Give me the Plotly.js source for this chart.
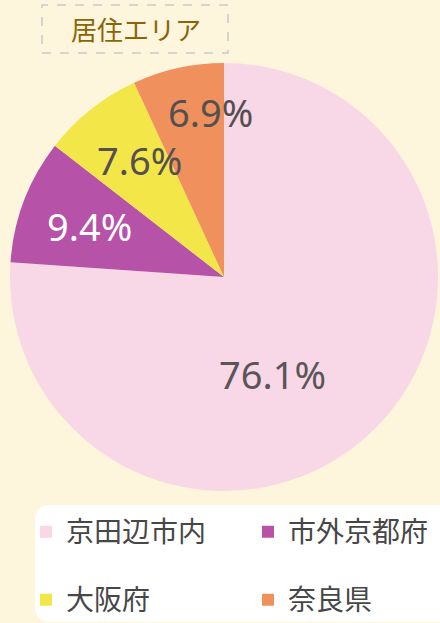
<!DOCTYPE html>
<html><head><meta charset="utf-8">
<script src="https://cdn.plot.ly/plotly-3.0.1.min.js"></script>
<style>html,body{margin:0;padding:0;background:#fdf5de;}</style>
</head><body>
<div id="chart" style="width:440px;height:623px;"></div>
<script>
const labels = ["京田辺市内", "市外京都府", "大阪府", "奈良県"];
const values = [76.1, 9.4, 7.6, 6.9];
const sliceColors = ["#f8d8e6", "#b652a8", "#f3e648", "#f0905d"];
const textColors = ["#5a5558", "#ffffff", "#555050", "#555050"];
const chartTitle = "居住エリア";

const W = 440, H = 623;
const px = x => x / W, py = y => 1 - y / H;

// pie geometry (pixels)
const pieX0 = 10, pieX1 = 438, pieY0 = 63, pieY1 = 491;
const cx = (pieX0 + pieX1) / 2, cy = (pieY0 + pieY1) / 2, R = (pieX1 - pieX0) / 2;

// label placement relative to each slice's mid-angle
const labelAngleNudge = [16.7, 0, 2.8, 7.6];
const labelRadius = [0.506, 0.674, 0.673, 0.774];

const total = values.reduce((a, b) => a + b, 0);
let cum = 0;
const pctAnnotations = values.map((v, i) => {
  const mid = (cum + v / 2) / total * 360;
  cum += v;
  const th = (mid + labelAngleNudge[i]) * Math.PI / 180;
  const x = cx + labelRadius[i] * R * Math.sin(th);
  const y = cy - labelRadius[i] * R * Math.cos(th);
  return {
    text: (v / total * 100).toFixed(1) + "%",
    xref: "paper", yref: "paper", x: px(x), y: py(y),
    xanchor: "center", yanchor: "middle", showarrow: false,
    font: { family: "Noto Sans, sans-serif", size: 38, color: textColors[i] }
  };
});

// rounded legend box
const bx0 = 35, bx1 = 470, by0 = 505, by1 = 622, r = 16;
const legendPath = `M ${px(bx0 + r)},${py(by0)} L ${px(bx1)},${py(by0)} L ${px(bx1)},${py(by1)} L ${px(bx0 + r)},${py(by1)} Q ${px(bx0)},${py(by1)} ${px(bx0)},${py(by1 - r)} L ${px(bx0)},${py(by0 + r)} Q ${px(bx0)},${py(by0)} ${px(bx0 + r)},${py(by0)} Z`;

// first-row entries get an extra (blank) line for row spacing; first entry padded for column spacing
const legendLabels = labels.map((l, i) => {
  let s = `<span style="font-size:28px">${l}</span>`;
  if (i === 0) s += `<span style="font-size:37px">\u3000</span>`;
  if (i < 2) s += `<br> `;
  return s;
});

const trace = {
  type: "pie",
  labels: legendLabels,
  values: values,
  sort: false,
  direction: "clockwise",
  rotation: 0,
  marker: { colors: sliceColors, line: { width: 0 } },
  textinfo: "none",
  hoverinfo: "none",
  domain: { x: [px(pieX0), px(pieX1)], y: [py(pieY1), py(pieY0)] }
};

const layout = {
  width: W, height: H,
  margin: { l: 0, r: 0, t: 0, b: 0 },
  paper_bgcolor: "#fef5dd",
  plot_bgcolor: "#fef5dd",
  showlegend: true,
  legend: {
    orientation: "h",
    x: px(26), xanchor: "left",
    y: py(509), yanchor: "top",
    bgcolor: "rgba(0,0,0,0)",
    font: { family: "Noto Sans CJK JP", size: 25, color: "#474747" },
    valign: "top",
    traceorder: "normal"
  },
  shapes: [
    { type: "path", xref: "paper", yref: "paper", path: legendPath, fillcolor: "#ffffff", line: { width: 0 }, layer: "below" },
    { type: "rect", xref: "paper", yref: "paper", x0: px(42), x1: px(228), y0: py(53), y1: py(5), line: { color: "#c9c9c9", width: 1.5, dash: "dash" }, fillcolor: "rgba(0,0,0,0)" }
  ],
  annotations: [
    { text: chartTitle, xref: "paper", yref: "paper", x: px(136), y: py(29), xanchor: "center", yanchor: "middle", showarrow: false, font: { family: "Noto Sans CJK JP", size: 26, color: "#8a6508" } }
  ].concat(pctAnnotations)
};

Plotly.newPlot("chart", [trace], layout, { displayModeBar: false, staticPlot: true });
</script>
</body></html>
